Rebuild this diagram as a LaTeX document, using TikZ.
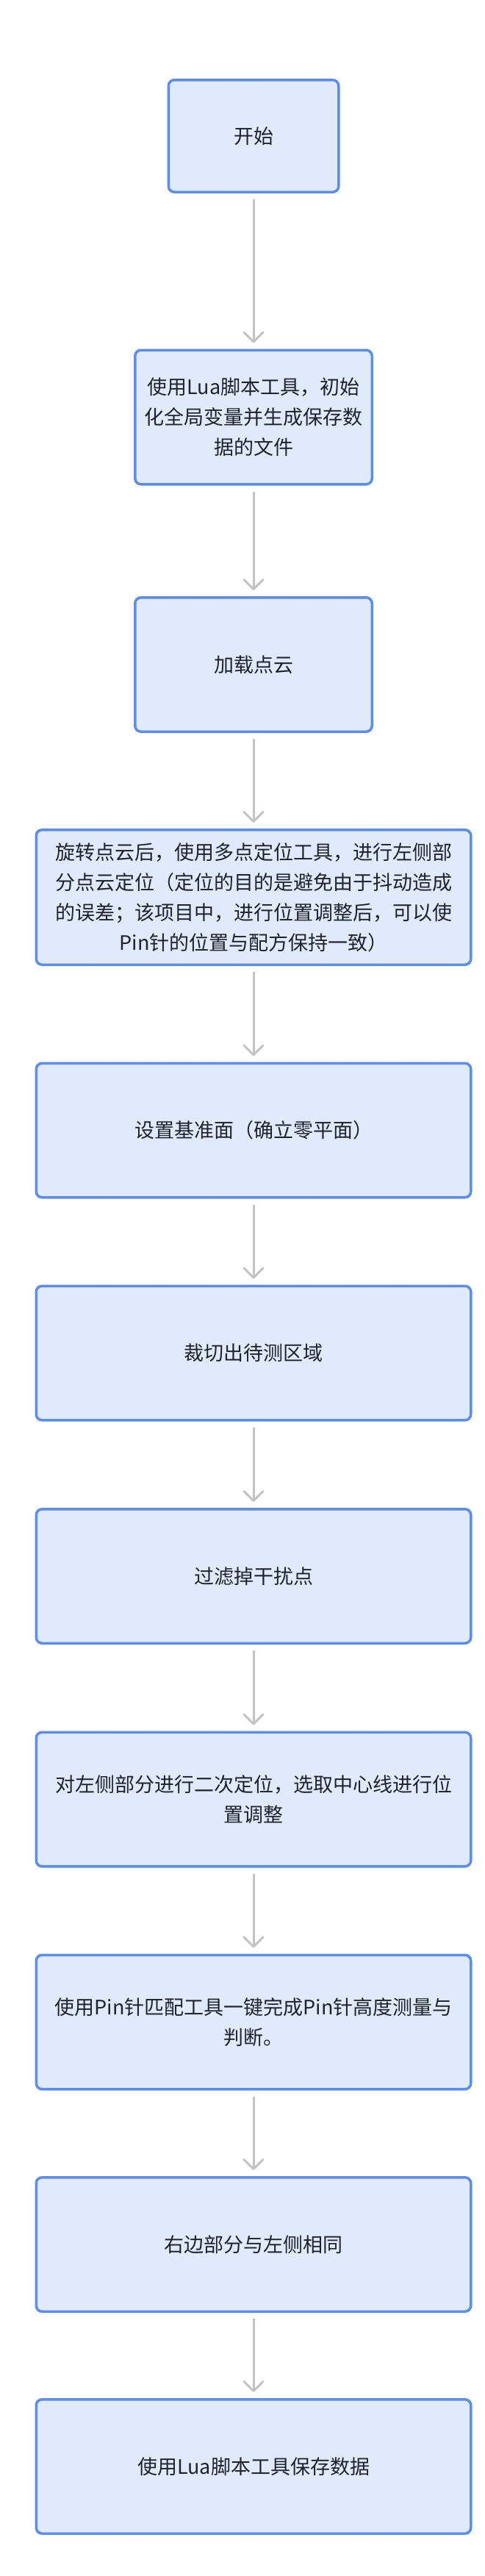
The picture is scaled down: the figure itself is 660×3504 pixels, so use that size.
\documentclass[tikz,border=0pt]{standalone}
\usepackage{fontspec}
\setmainfont{Noto Sans CJK SC}
\usetikzlibrary{arrows.meta}
\definecolor{boxfill}{HTML}{E1EAFD}
\definecolor{boxline}{HTML}{5B8DEF}
\definecolor{arrowc}{HTML}{C1C3C7}
\definecolor{txt}{HTML}{1F2329}
\begin{document}
\begin{tikzpicture}[x=1pt,y=-1pt,
  stepbox/.style={draw=boxline, fill=boxfill, line width=3.5pt, rounded corners=8pt,
    align=center, text=txt, font=\fontsize{27}{41}\selectfont, inner sep=0pt,
    minimum height=182.5pt},
  narrowbox/.style={stepbox, minimum width=322.5pt},
  widebox/.style={stepbox, minimum width=591.5pt},
  flow/.style={draw=arrowc, line width=3pt,
    -{Straight Barb[length=13pt,width=26pt,round]},
    shorten <=8pt, shorten >=8pt}]
\path[fill=white] (0,0) rectangle (660,3504);
\node[stepbox, minimum width=231.5pt, minimum height=152.5pt] (b1) at (345,185) {开始};
\node[narrowbox] (b2) at (345,567.5) {使用Lua脚本工具，初始\\化全局变量并生成保存数\\据的文件};
\node[narrowbox] (b3) at (345,904) {加载点云};
\node[widebox, minimum height=183.5pt] (b4) at (345,1220.5) {旋转点云后，使用多点定位工具，进行左侧部\\分点云定位（定位的目的是避免由于抖动造成\\的误差；该项目中，进行位置调整后，可以使\\Pin针的位置与配方保持一致）};
\node[widebox] (b5) at (345,1537.5) {设置基准面（确立零平面）};
\node[widebox] (b6) at (345,1840.5) {裁切出待测区域};
\node[widebox] (b7) at (345,2144) {过滤掉干扰点};
\node[widebox] (b8) at (345,2447.5) {对左侧部分进行二次定位，选取中心线进行位\\置调整};
\node[widebox] (b9) at (345,2750.5) {使用Pin针匹配工具一键完成Pin针高度测量与\\判断。};
\node[widebox] (b10) at (345,3053) {右边部分与左侧相同};
\node[widebox] (b11) at (345,3355) {使用Lua脚本工具保存数据};
\draw[flow] (b1) -- (b2);
\draw[flow] (b2) -- (b3);
\draw[flow] (b3) -- (b4);
\draw[flow] (b4) -- (b5);
\draw[flow] (b5) -- (b6);
\draw[flow] (b6) -- (b7);
\draw[flow] (b7) -- (b8);
\draw[flow] (b8) -- (b9);
\draw[flow] (b9) -- (b10);
\draw[flow] (b10) -- (b11);
\end{tikzpicture}
\end{document}
